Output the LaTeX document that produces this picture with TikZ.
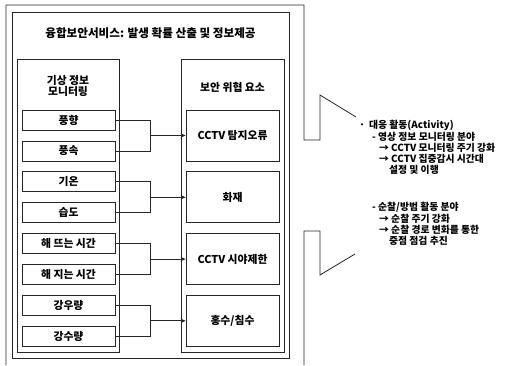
\documentclass[tikz,border=0pt]{standalone}
\usepackage{fontspec}
\setmainfont{Noto Sans CJK KR}
\usetikzlibrary{arrows.meta}
\tikzset{
  frame/.style={draw=black!85, line width=0.8pt},
  itembox/.style={draw=black!85, line width=0.8pt, minimum width=93pt, minimum height=20pt, inner sep=0pt, font=\fontsize{10.8}{12}\selectfont\bfseries},
  threatbox/.style={draw=black!85, line width=0.8pt, minimum width=93pt, minimum height=51pt, inner sep=0pt, font=\fontsize{10.8}{12}\selectfont\bfseries},
  grouptitle/.style={align=center, font=\fontsize{10.8}{12}\selectfont\bfseries, inner sep=0pt},
  conn/.style={draw=black!85, line width=0.8pt},
  arr/.style={conn, -{Stealth[length=5pt,width=4.5pt]}},
  txt/.style={anchor=west, inner sep=0pt, font=\fontsize{9.8}{11}\selectfont\bfseries},
}
\begin{document}
\begin{tikzpicture}[x=1pt,y=-1pt]
\useasboundingbox (0,0) rectangle (523,365);
% outer frame with callout
\draw[frame] (6,365) -- (6,5) -- (304,5) -- (304,140) -- (320,140) -- (320,95) -- (356,117);
\draw[frame] (355,254) -- (320,275) -- (320,231) -- (304,231) -- (304,365);
% inner frame
\draw[frame] (12,12) rectangle (289,358);
\node[grouptitle, font=\fontsize{11.6}{13}\selectfont\bfseries] (title) at (150.5,33) {융합보안서비스: 발생 확률 산출 및 정보제공};
% group boxes
\draw[frame] (17,59) rectangle (119,352);
\draw[frame] (181,59) rectangle (284,352);
\node[grouptitle] (g1) at (68,86) {기상 정보\\[-1.5pt]모니터링};
\node[grouptitle] (g2) at (232.5,87) {보안 위협 요소};
% items
\node[itembox] (a1) at (68.5,120) {풍향};
\node[itembox] (a2) at (68.5,150.9) {풍속};
\node[itembox] (a3) at (68.5,181.8) {기온};
\node[itembox] (a4) at (68.5,212.7) {습도};
\node[itembox] (a5) at (68.5,243.6) {해 뜨는 시간};
\node[itembox] (a6) at (68.5,274.5) {해 지는 시간};
\node[itembox] (a7) at (68.5,305.4) {강우량};
\node[itembox] (a8) at (68.5,336.3) {강수량};
% threats
\node[threatbox] (t1) at (232.5,135.45) {CCTV 탐지오류};
\node[threatbox] (t2) at (232.5,197.25) {화재};
\node[threatbox] (t3) at (232.5,259.05) {CCTV 시야제한};
\node[threatbox] (t4) at (232.5,320.85) {홍수/침수};
% junctions
\coordinate (j1) at (150,135.45);
\coordinate (j2) at (150,197.25);
\coordinate (j3) at (150,259.05);
\coordinate (j4) at (150,320.85);
\draw[conn] (a1.east) -| (j1);
\draw[conn] (a2.east) -| (j1);
\draw[arr] (j1) -- (t1.west);
\draw[conn] (a3.east) -| (j2);
\draw[conn] (a4.east) -| (j2);
\draw[arr] (j2) -- (t2.west);
\draw[conn] (a5.east) -| (j3);
\draw[conn] (a6.east) -| (j3);
\draw[arr] (j3) -- (t3.west);
\draw[conn] (a7.east) -| (j4);
\draw[conn] (a8.east) -| (j4);
\draw[arr] (j4) -- (t4.west);
% activity text
\node[txt] (r1) at (359,125) {·\hspace{4pt}대응 활동(Activity)};
\node[txt] (r2) at (372,136.5) {- 영상 정보 모니터링 분야};
\node[txt] (r3) at (379,147.5) {→ CCTV 모니터링 주기 강화};
\node[txt] (r4) at (379,158.5) {→ CCTV 집중감시 시간대};
\node[txt] (r5) at (389,170) {설정 및 이행};
\node[txt] (r6) at (372,207) {- 순찰/방범 활동 분야};
\node[txt] (r7) at (379,218.5) {→ 순찰 주기 강화};
\node[txt] (r8) at (379,230) {→ 순찰 경로 변화를 통한};
\node[txt] (r9) at (389,241) {중점 점검 추진};
\end{tikzpicture}
\end{document}
